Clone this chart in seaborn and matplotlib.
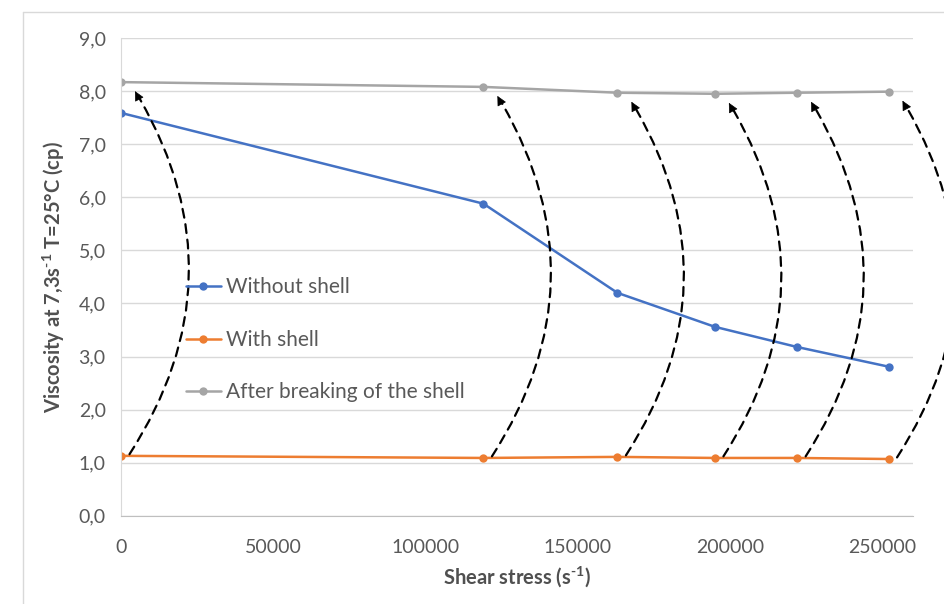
import numpy as np
import pandas as pd
import matplotlib
matplotlib.use("Agg")
import matplotlib.pyplot as plt
import seaborn as sns
from matplotlib.patches import FancyArrowPatch
from matplotlib.lines import Line2D

# data
shear_stress = [0, 119000, 163000, 195000, 222000, 252000]
without_shell = [7.59, 5.88, 4.20, 3.56, 3.18, 2.81]
with_shell = [1.13, 1.09, 1.11, 1.09, 1.09, 1.07]
after_breaking = [8.17, 8.08, 7.97, 7.95, 7.97, 7.99]

series_names = ["Without shell", "With shell", "After breaking of the shell"]
series_colors = ["#4472C4", "#ED7D31", "#A5A5A5"]
y_ticks = [0, 1, 2, 3, 4, 5, 6, 7, 8, 9]
x_ticks = [0, 50000, 100000, 150000, 200000, 250000]

sns.set_style("white")
plt.rcParams["font.family"] = ["Lato", "DejaVu Sans"]
plt.rcParams["mathtext.fontset"] = "custom"
plt.rcParams["mathtext.rm"] = "Lato:bold"
plt.rcParams["mathtext.bf"] = "Lato:bold"
plt.rcParams["mathtext.default"] = "bf"

df = pd.DataFrame({
    "x": shear_stress * 3,
    "y": without_shell + with_shell + after_breaking,
    "series": [series_names[0]] * 6 + [series_names[1]] * 6 + [series_names[2]] * 6,
})

fig = plt.figure(figsize=(9.45, 6.04), dpi=100)
ax = fig.add_axes([0.128, 0.146, 0.838, 0.791])

sns.lineplot(data=df, x="x", y="y", hue="series", hue_order=series_names,
             palette=series_colors, marker="o", markersize=6, markeredgewidth=0,
             linewidth=1.8, ax=ax, sort=False, legend=False)

# dashed curved arrows: with shell -> after breaking
for xs, y0, y1 in zip(shear_stress, with_shell, after_breaking):
    arr = FancyArrowPatch((xs + 2800, y0 + 0.03), (xs + 5000, y1 - 0.2),
                          connectionstyle="arc3,rad=0.31", arrowstyle="-",
                          linestyle=(0, (4, 3)), linewidth=1.6, color="black",
                          clip_on=False, shrinkA=0, shrinkB=5, zorder=5)
    ax.add_patch(arr)
    head = FancyArrowPatch((xs + 5800, y1 - 0.3), (xs + 4600, y1 - 0.17),
                           arrowstyle="-|>", mutation_scale=15, linewidth=0.5,
                           color="black", clip_on=False, shrinkA=0, shrinkB=0,
                           zorder=5)
    ax.add_patch(head)

ax.set_xlim(0, 260000)
ax.set_ylim(0, 9)
ax.set_yticks(y_ticks)
ax.set_yticklabels([f"{v:.1f}".replace(".", ",") for v in y_ticks])
ax.set_xticks(x_ticks)
ax.set_xticklabels([str(v) for v in x_ticks])

ax.grid(axis="y", color="#D9D9D9", linewidth=1)
ax.grid(axis="x", visible=False)
for side in ["top", "right"]:
    ax.spines[side].set_visible(False)
ax.spines["left"].set_color("#D9D9D9")
ax.spines["bottom"].set_color("#BFBFBF")
ax.tick_params(axis="y", length=0, labelsize=14, labelcolor="#595959", pad=11)
ax.tick_params(axis="x", length=5, direction="inout", color="#BFBFBF",
               labelsize=14, labelcolor="#595959", pad=14)

ax.set_xlabel("Shear stress (s$^{\\text{-1}}$)", fontsize=14.5, fontweight="bold",
              color="#505050", labelpad=6)
ax.set_ylabel("Viscosity at 7,3s$^{\\text{-1}}$ T=25°C (cp)", fontsize=14.5,
              fontweight="bold", color="#505050", labelpad=8)

handles = [Line2D([], [], color=c, marker="o", markersize=6, markeredgewidth=0,
                  linewidth=1.8) for c in series_colors]
leg = ax.legend(handles, series_names, loc="center left",
                bbox_to_anchor=(0.058, 0.368), frameon=False, fontsize=15,
                labelspacing=1.56, handlelength=1.7, handletextpad=0.25,
                labelcolor="#595959")

# outer chart border
fig.add_artist(Line2D([23 / 945, 23 / 945], [0, 1 - 12 / 604], color="#D9D9D9",
                      linewidth=1, transform=fig.transFigure))
fig.add_artist(Line2D([23 / 945, 1], [1 - 12 / 604, 1 - 12 / 604], color="#D9D9D9",
                      linewidth=1, transform=fig.transFigure))

fig.savefig("out.png", dpi=100)
